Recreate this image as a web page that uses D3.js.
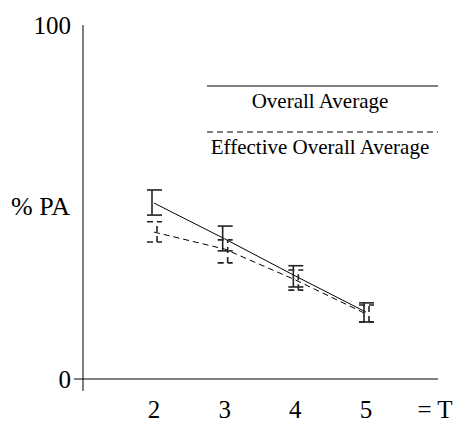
<!DOCTYPE html>
<meta charset="utf-8">
<script src="https://cdn.jsdelivr.net/npm/d3@7"></script>
<style>
  body { margin: 0; background: #fff; }
  text { font-family: "Liberation Serif", "Times New Roman", serif; fill: #000; }
</style>
<div id="chart"></div>
<script>
// values
var tValues = [2, 3, 4, 5];
var overallMean = [49.7, 39.6, 29.1, 18.9];
var overallLow  = [46.3, 36.2, 26.0, 16.1];
var overallHigh = [53.4, 43.2, 32.0, 21.5];
var effectiveMean = [41.5, 36.7, 28.0, 18.4];
var effectiveLow  = [38.7, 32.8, 25.1, 16.1];
var effectiveHigh = [44.4, 39.3, 30.8, 20.9];
var yTicks = [0, 100];
var seriesNames = ["Overall Average", "Effective Overall Average"];

var W = 458, H = 422;
var svg = d3.select("#chart").append("svg")
  .attr("width", W).attr("height", H);

var x = d3.scaleLinear().domain([2, 5]).range([154, 366]);
var y = d3.scaleLinear().domain([0, 100]).range([379, 25]);
var dashed = "6,4";

// axes lines
svg.append("line").attr("x1", 83).attr("x2", 83)
  .attr("y1", y(100)).attr("y2", 391)
  .attr("stroke", "#000").attr("stroke-width", 1);
svg.append("line").attr("x1", 74).attr("x2", 438)
  .attr("y1", y(0)).attr("y2", y(0))
  .attr("stroke", "#000").attr("stroke-width", 1);

// y tick labels
svg.selectAll(".ytick").data(yTicks).enter().append("text")
  .attr("x", 71).attr("y", function(d) { return y(d) + 9; })
  .attr("text-anchor", "end")
  .style("font-size", "25px")
  .text(function(d) { return d; });

svg.append("text").attr("x", 70).attr("y", 215)
  .attr("text-anchor", "end").style("font-size", "26px").text("% PA");

// x tick labels
svg.selectAll(".xtick").data(tValues).enter().append("text")
  .attr("x", function(d) { return x(d); }).attr("y", 418)
  .attr("text-anchor", "middle")
  .style("font-size", "25px")
  .text(function(d) { return d; });
svg.append("text").attr("x", 435).attr("y", 418)
  .attr("text-anchor", "middle").style("font-size", "25px").text("= T");

function drawSeries(mean, low, high, dash, off) {
  var pts = tValues.map(function(t, i) { return {t: t, m: mean[i], lo: low[i], hi: high[i]}; });
  svg.append("path").datum(pts)
    .attr("fill", "none").attr("stroke", "#000").attr("stroke-width", 1)
    .attr("stroke-dasharray", dash)
    .attr("d", d3.line().x(function(d) { return x(d.t); }).y(function(d) { return y(d.m); }));
  var g = svg.append("g").attr("stroke", "#222").attr("stroke-width", 1.6)
    .attr("stroke-dasharray", dash);
  g.selectAll(".v").data(pts).enter().append("line")
    .attr("x1", function(d) { return x(d.t) + off; })
    .attr("x2", function(d) { return x(d.t) + off; })
    .attr("y1", function(d) { return y(d.lo); })
    .attr("y2", function(d) { return y(d.hi); });
  ["lo", "hi"].forEach(function(k) {
    g.selectAll(".c" + k).data(pts).enter().append("line")
      .attr("x1", function(d) { return x(d.t) - 7; })
      .attr("x2", function(d) { return x(d.t) + 8; })
      .attr("y1", function(d) { return y(d[k]); })
      .attr("y2", function(d) { return y(d[k]); });
  });
}
drawSeries(overallMean, overallLow, overallHigh, null, -2);
drawSeries(effectiveMean, effectiveLow, effectiveHigh, dashed, 3);

// legend
var legendY = [86, 132];
legendY.forEach(function(ly, i) {
  svg.append("line").attr("x1", 207).attr("x2", 438)
    .attr("y1", ly).attr("y2", ly)
    .attr("stroke", "#000").attr("stroke-width", 1)
    .attr("stroke-dasharray", i === 1 ? dashed : null);
  svg.append("text").attr("x", 320).attr("y", ly + 22)
    .attr("text-anchor", "middle").style("font-size", "21px")
    .text(seriesNames[i]);
});
</script>
